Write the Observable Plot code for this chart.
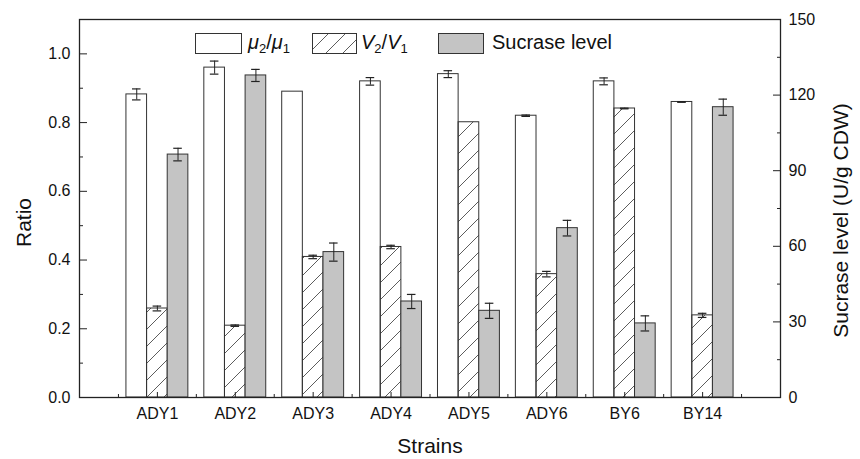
<!DOCTYPE html>
<html>
<head>
<meta charset="utf-8">
<script src="https://cdn.jsdelivr.net/npm/d3@7"></script>
<script src="https://cdn.jsdelivr.net/npm/@observablehq/plot@0.6"></script>
<style>
  html, body { margin: 0; padding: 0; background: #fff; }
  #wrap { position: relative; width: 860px; height: 459px; font-family: "Liberation Sans", Arial, sans-serif; color: #111; }
  #legend { position: absolute; left: 0; top: 0; width: 860px; height: 60px; pointer-events: none; }
  .sw { position: absolute; top: 33px; }
  .lt { position: absolute; top: 31px; font-size: 20px; line-height: 22px; white-space: nowrap; }
  .lt sub { font-size: 13px; vertical-align: -4px; line-height: 0; }
</style>
</head>
<body>
<div id="wrap">
  <div id="chart"></div>
  <div id="legend">
    <svg class="sw" style="left:195px" width="47" height="21"><rect x="0.5" y="0.5" width="46" height="20" fill="#fff" stroke="#333"/></svg>
    <div class="lt" style="left:248px"><i>μ</i><sub>2</sub>/<i>μ</i><sub>1</sub></div>
    <svg class="sw" style="left:312px" width="45" height="21">
      <defs><pattern id="hatchL" patternUnits="userSpaceOnUse" width="17" height="17"><path d="M0,17L17,0M-4,4L4,-4M13,21L21,13" stroke="#333" stroke-width="0.8"/></pattern></defs>
      <rect x="0.5" y="0.5" width="44" height="20" fill="url(#hatchL)" stroke="#333"/></svg>
    <div class="lt" style="left:361px"><i>V</i><sub>2</sub>/<i>V</i><sub>1</sub></div>
    <svg class="sw" style="left:438px" width="46" height="21"><rect x="0.5" y="0.5" width="45" height="20" fill="#c4c4c4" stroke="#333"/></svg>
    <div class="lt" style="left:492px">Sucrase level</div>
  </div>
</div>
<script>
// ---- data ----
const strains = ["ADY1", "ADY2", "ADY3", "ADY4", "ADY5", "ADY6", "BY6", "BY14"];
const muRatio = [0.882, 0.960, 0.890, 0.920, 0.941, 0.820, 0.920, 0.860];
const muErr   = [0.016, 0.019, 0,     0.011, 0.010, 0.002, 0.010, 0.001];
const vRatio  = [0.259, 0.209, 0.409, 0.438, 0.801, 0.359, 0.841, 0.239];
const vErr    = [0.007, 0.002, 0.005, 0.005, 0,     0.008, 0.001, 0.006];
const sucrase = [96.4, 127.8, 57.7, 38.1, 34.4, 67.2, 29.4, 115.2];
const sucErr  = [2.5, 2.4, 3.6, 2.8, 3.0, 3.1, 3.0, 3.2];
const ratioTicks = [0, 0.2, 0.4, 0.6, 0.8, 1.0];
const ratioMinor = [0.1, 0.3, 0.5, 0.7, 0.9];
const sucTicks = [0, 30, 60, 90, 120, 150];
const sucMinor = [15, 45, 75, 105, 135];

// ---- derived ----
const yMax = 1.1, sucMax = 150;
const toRatio = (s) => s / sucMax * yMax;
const bw = 0.265;
const series = [
  {name: "mu", values: muRatio, errs: muErr, off: -1, fill: "#ffffff"},
  {name: "v", values: vRatio, errs: vErr, off: 0, fill: "url(#hatch)"},
  {name: "suc", values: sucrase.map(toRatio), errs: sucErr.map(toRatio), off: 1, fill: "#c4c4c4"}
];
const rows = series.flatMap(s => strains.map((st, i) => ({
  strain: st, pos: i + 1 + s.off * bw, value: s.values[i], err: s.errs[i], fill: s.fill
})));
const errRows = rows.filter(d => d.err > 0);
const majorX = strains.map((_, i) => i + 1);
const minorX = d3.range(0, strains.length + 1).map(i => i + 0.5);

const defs = () => {
  const g = d3.create("svg:defs");
  g.append("pattern").attr("id", "hatch").attr("patternUnits", "userSpaceOnUse")
    .attr("width", 17).attr("height", 17)
    .append("path").attr("d", "M0,17L17,0M-4,4L4,-4M13,21L21,13")
    .attr("stroke", "#333").attr("stroke-width", 0.8);
  return g.node();
};

const plot = Plot.plot({
  width: 860, height: 459,
  marginLeft: 79, marginRight: 80, marginTop: 19, marginBottom: 62,
  style: {fontFamily: "Liberation Sans, Arial, sans-serif", fontSize: "16px", color: "#111", background: "#fff"},
  x: {domain: [0, strains.length + 1], axis: null},
  y: {domain: [0, yMax], axis: null},
  marks: [
    defs,
    Plot.rect(rows, {x1: d => d.pos - bw / 2, x2: d => d.pos + bw / 2, y1: 0, y2: "value", fill: "fill", stroke: "#333", strokeWidth: 1}),
    Plot.ruleX(errRows, {x: "pos", y1: d => d.value - d.err, y2: d => d.value + d.err, stroke: "#222", strokeWidth: 1}),
    Plot.ruleY(errRows, {y: d => d.value + d.err, x1: d => d.pos - 0.055, x2: d => d.pos + 0.055, stroke: "#222", strokeWidth: 1.2}),
    Plot.ruleY(errRows, {y: d => d.value - d.err, x1: d => d.pos - 0.055, x2: d => d.pos + 0.055, stroke: "#222", strokeWidth: 1.2}),
    // left axis
    Plot.axisY(ratioTicks, {anchor: "left", tickSize: -8, fill: "none", stroke: "#222", label: null}),
    Plot.axisY(ratioMinor, {anchor: "left", tickSize: -4, fill: "none", stroke: "#222", label: null}),
    Plot.axisY(ratioTicks, {anchor: "left", tickSize: 0, tickPadding: 9, tickFormat: d => d.toFixed(1), stroke: "none", fill: "#111", label: null}),
    // right axis
    Plot.axisY(sucTicks.map(toRatio), {anchor: "right", tickSize: -8, fill: "none", stroke: "#222", label: null}),
    Plot.axisY(sucMinor.map(toRatio), {anchor: "right", tickSize: -4, fill: "none", stroke: "#222", label: null}),
    Plot.axisY(sucTicks.map(toRatio), {anchor: "right", tickSize: 0, tickPadding: 8, tickFormat: d => String(Math.round(d / yMax * sucMax)), stroke: "none", fill: "#111", label: null}),
    // bottom axis
    Plot.axisX(majorX, {anchor: "bottom", tickSize: -5, fill: "none", stroke: "#222", label: null}),
    Plot.axisX(minorX, {anchor: "bottom", tickSize: -3, fill: "none", stroke: "#222", label: null}),
    Plot.axisX(majorX, {anchor: "bottom", tickSize: 0, tickPadding: 10, tickFormat: d => strains[d - 1], stroke: "none", fill: "#111", label: null}),
    Plot.frame({stroke: "#222", strokeWidth: 1.3}),
    // titles
    Plot.text(["Strains"], {frameAnchor: "bottom", dy: 55, lineAnchor: "bottom", textAnchor: "middle", fontSize: 21, fill: "#111"}),
    Plot.text(["Ratio"], {frameAnchor: "left", dx: -49, dy: 14, rotate: -90, lineAnchor: "bottom", textAnchor: "middle", fontSize: 21, fill: "#111"}),
    Plot.text(["Sucrase level (U/g CDW)"], {frameAnchor: "right", dx: 67, dy: 12, rotate: -90, lineAnchor: "bottom", textAnchor: "middle", fontSize: 21, fill: "#111"})
  ]
});
document.getElementById("chart").appendChild(plot);
</script>
</body>
</html>
